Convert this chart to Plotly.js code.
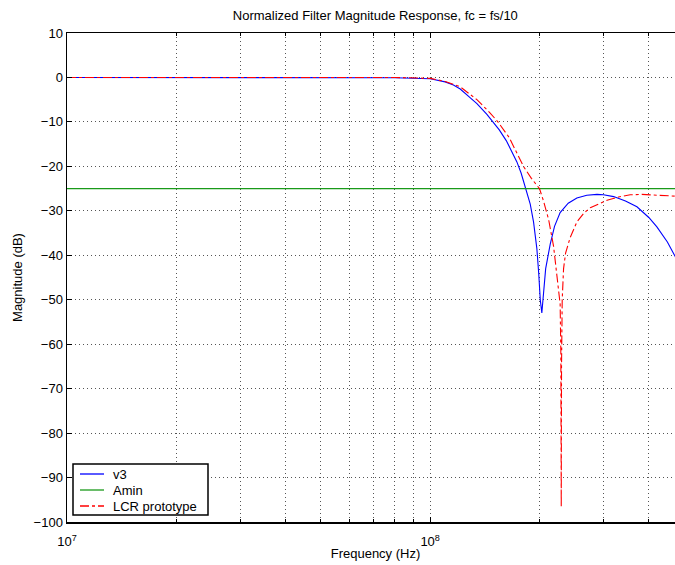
<!DOCTYPE html>
<html>
<head>
<meta charset="utf-8">
<script src="https://cdn.plot.ly/plotly-3.0.1.min.js"></script>
<style>
html,body{margin:0;padding:0;overflow:hidden;background:#fff;}
#chart{width:700px;height:565px;}
</style>
</head>
<body>
<div id="chart"></div>
<script>
// v3 filter response
const v3Freq = [1e7,2e7,5e7,8e7,1e8,1.1e8,1.159e8,1.21e8,1.29e8,1.345e8,1.433e8,1.49e8,1.55e8,1.62e8,1.7e8,1.733e8,1.78e8,1.831e8,1.886e8,1.926e8,1.967e8,1.99e8,2.01e8,2.03e8,2.05e8,2.08e8,2.141e8,2.2e8,2.28e8,2.4e8,2.535e8,2.7e8,2.88e8,3.0e8,3.2e8,3.45e8,3.71e8,4.0e8,4.21e8,4.5e8,4.73e8,5e8];
const v3Mag  = [0,0,0,-0.05,-0.3,-1.0,-1.7,-2.6,-4.6,-5.9,-8.3,-10,-11.8,-14.2,-17.5,-19,-21.5,-25,-28.5,-32.5,-38.5,-44,-50,-53,-48,-43,-37.5,-33.5,-30.4,-28.3,-27.1,-26.5,-26.3,-26.4,-26.8,-27.8,-29.1,-31.5,-33.6,-37,-40.3,-45];
// Amin
const aminFreq = [1e7,5e8];
const aminMag  = [-25,-25];
// LCR prototype
const lcrFreq = [1e7,5e7,8e7,1e8,1.1e8,1.21e8,1.345e8,1.463e8,1.537e8,1.65e8,1.75e8,1.807e8,1.9e8,2.0e8,2.052e8,2.12e8,2.187e8,2.24e8,2.28e8,2.29e8,2.296e8,2.30e8,2.31e8,2.33e8,2.36e8,2.43e8,2.535e8,2.65e8,2.76e8,3.07e8,3.3e8,3.556e8,3.8e8,4.12e8,4.4e8,4.73e8,5e8];
const lcrMag  = [0,0,0,-0.2,-0.9,-2.1,-5.0,-8.0,-10,-13.5,-17.5,-20,-22.7,-25,-27.8,-32,-38,-45,-51,-62,-96.6,-65,-50,-43,-39.5,-36,-32.5,-30.5,-29.3,-27.6,-26.9,-26.4,-26.3,-26.4,-26.5,-26.7,-27];
// axis ticks
const xMajorVals = [1e7,1e8];
const xMajorText = ['10<sup>7</sup>','10<sup>8</sup>'];
const xMinorVals = [2e7,3e7,4e7,5e7,6e7,7e7,8e7,9e7,2e8,3e8,4e8];
const yTickVals = [-100,-90,-80,-70,-60,-50,-40,-30,-20,-10,0,10];
// legend entries
const seriesNames = ['v3','Amin','LCR prototype'];
const seriesColors = ['#0000ff','#1a9a1a','#ff0000'];
const seriesDash = ['solid','solid','dashdot'];

const font = {family:'"Liberation Sans", Arial, Helvetica, sans-serif', size:13, color:'#000'};

const traces = [
  {x:v3Freq, y:v3Mag, name:seriesNames[0], type:'scatter', mode:'lines', line:{color:seriesColors[0], width:1.1, dash:seriesDash[0]}},
  {x:aminFreq, y:aminMag, name:seriesNames[1], type:'scatter', mode:'lines', line:{color:seriesColors[1], width:1.3, dash:seriesDash[1]}},
  {x:lcrFreq, y:lcrMag, name:seriesNames[2], type:'scatter', mode:'lines', line:{color:seriesColors[2], width:1.1, dash:seriesDash[2]}}
];

// plot-area geometry (pixels) for the hand-built legend box
const L = 67, T = 33, W = 617, H = 489;
const px = v => (v - L) / W;
const py = v => (T + H - v) / H;

const shapes = [
  {type:'rect', xref:'paper', yref:'paper', x0:px(73), x1:px(208), y0:py(515), y1:py(464), line:{color:'#000', width:1.5}, fillcolor:'#fff', layer:'above'}
];
const annotations = [];
const rowY = [474, 490, 506];
seriesNames.forEach((n, i) => {
  shapes.push({type:'line', xref:'paper', yref:'paper', x0:px(80), x1:px(104), y0:py(rowY[i]), y1:py(rowY[i]), line:{color:seriesColors[i], width:1.3, dash:seriesDash[i]}, layer:'above'});
  annotations.push({xref:'paper', yref:'paper', x:px(111), y:py(rowY[i]), xanchor:'left', yanchor:'middle', text:n, showarrow:false, font:font});
});

const layout = {
  width:700, height:565,
  margin:{l:L, r:700 - L - W, t:T, b:565 - T - H},
  paper_bgcolor:'#fff', plot_bgcolor:'#fff',
  font:font,
  showlegend:false,
  title:{text:'Normalized Filter Magnitude Response, fc = fs/10', font:{...font, size:13}, x:0.5362, xanchor:'center', y:0.973, yanchor:'middle'},
  xaxis:{
    type:'log', range:[7, Math.log10(5e8)],
    tickmode:'array', tickvals:xMajorVals, ticktext:xMajorText,
    ticks:'inside', ticklen:5, tickwidth:1, tickcolor:'#000',
    minor:{tickmode:'array', tickvals:xMinorVals, ticks:'inside', ticklen:3, tickwidth:1, tickcolor:'#000', showgrid:true, gridcolor:'#555', gridwidth:1, griddash:'1px,3px'},
    showline:true, linecolor:'#000', linewidth:1.5, mirror:'ticks',
    showgrid:true, gridcolor:'#555', gridwidth:1, griddash:'1px,3px',
    zeroline:false, tickfont:font, ticklabelstandoff:7,
    title:{text:'Frequency (Hz)', font:font, standoff:1}
  },
  yaxis:{
    range:[-100,10], tickmode:'array', tickvals:yTickVals,
    ticks:'inside', ticklen:5, tickwidth:1, tickcolor:'#000',
    showline:true, linecolor:'#000', linewidth:1.5, mirror:'ticks',
    showgrid:true, gridcolor:'#555', gridwidth:1, griddash:'1px,3px',
    zeroline:false, tickfont:font,
    title:{text:'Magnitude (dB)', font:font, standoff:8}
  },
  shapes:shapes,
  annotations:annotations
};

Plotly.newPlot('chart', traces, layout, {displayModeBar:false, staticPlot:true});
</script>
</body>
</html>
